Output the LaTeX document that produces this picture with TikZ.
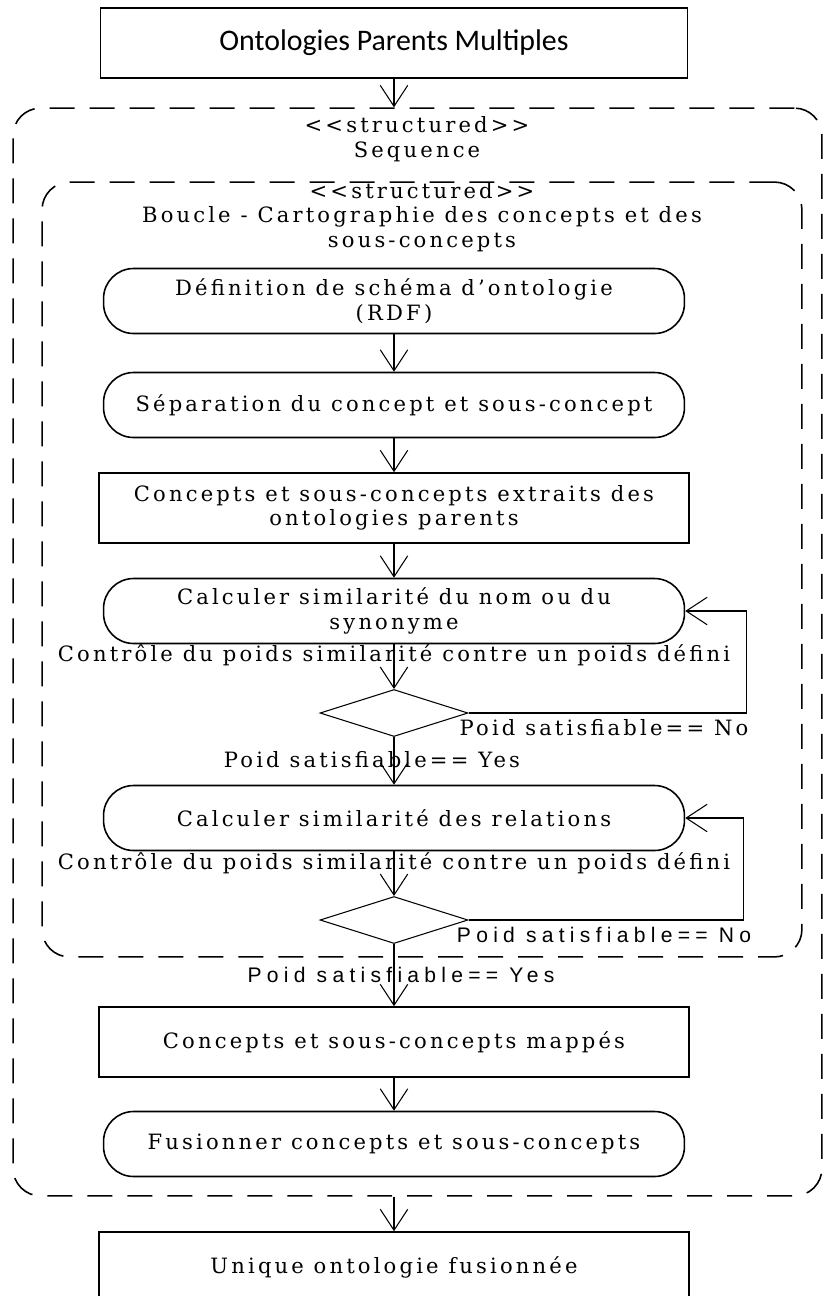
\documentclass[tikz,border=0pt]{standalone}
\usepackage{fontspec}
\setmainfont{DejaVu Serif}[LetterSpace=15]
\newfontfamily\calfont{Carlito}
\newfontfamily\arialfont{Liberation Sans}[LetterSpace=25]
\usetikzlibrary{shapes.geometric,arrows.meta}

\begin{document}
\begin{tikzpicture}[x=0.02cm,y=-0.02cm,line width=0.6pt,
  every node/.style={font=\fontsize{12}{14}\selectfont},
  box/.style={draw,rectangle,line width=0.9pt,minimum width=11.8cm,minimum height=1.4cm,align=center},
  act/.style={draw,rectangle,line width=0.9pt,rounded corners=0.6cm,minimum width=11.62cm,minimum height=1.3cm,align=center},
  region/.style={draw,rectangle,rounded corners=0.55cm,dash pattern=on 0.5cm off 0.3cm,line width=0.9pt},
  dec/.style={draw,diamond,minimum width=2.96cm,minimum height=0.94cm,inner sep=0pt},
  flow/.style={-{Straight Barb[length=0.42cm,width=0.55cm]}},
  sans/.style={font=\arialfont\fontsize{12}{14}\selectfont}]
\useasboundingbox (0,0) rectangle (825,1296);
\node[box,minimum width=11.74cm,font=\calfont\fontsize{17}{20}\selectfont](top) at (394,43) {Ontologies Parents Multiples};
\node[region,minimum width=16.18cm,minimum height=21.76cm](seq) at (417.5,652) {};
\node[align=center](seqlbl) at (417,139) {<{}<structured>{}>\\Sequence};
\node[region,minimum width=15.2cm,minimum height=15.5cm](loop) at (422,569.5) {};
\node[align=center](looplbl) at (422,217) {<{}<structured>{}>\\Boucle - Cartographie des concepts et des\\sous-concepts};
\node[act](b1) at (394,301) {Définition de schéma d'ontologie\\(RDF)};
\node[act](b2) at (394,405) {Séparation du concept et sous-concept};
\node[box](b3) at (394,508) {Concepts et sous-concepts extraits des\\ontologies parents};
\node[act](b4) at (394,611) {Calculer similarité du nom ou du\\synonyme};
\node(ctl1) at (394,655) {Contrôle du poids similarité contre un poids défini};
\node[dec](d1) at (394,713) {};
\node(no1) at (604,728) {Poid satisfiable== No};
\node(yes1) at (372,760) {Poid satisfiable== Yes};
\node[act](b5) at (394,818) {Calculer similarité des relations};
\node(ctl2) at (394,863) {Contrôle du poids similarité contre un poids défini};
\node[dec](d2) at (394,920) {};
\node[sans](no2) at (604,935) {Poid satisfiable== No};
\node[sans](yes2) at (401,975) {Poid satisfiable== Yes};
\node[box](b6) at (394,1042) {Concepts et sous-concepts mappés};
\node[act](b7) at (394,1144) {Fusionner concepts et sous-concepts};
\node[box](b8) at (394,1267) {Unique ontologie fusionnée};

\draw[flow] (top) -- (top |- seq.north);
\draw[flow] (b1) -- (b2);
\draw[flow] (b2) -- (b3);
\draw[flow] (b3) -- (b4);
\draw[flow] (b4) -- (d1);
\draw[flow] (d1) -- (b5);
\draw[flow] (b5) -- (d2);
\draw[flow] (d2) -- (b6);
\draw[flow] (b6) -- (b7);
\draw[flow] (b8 |- seq.south) -- (b8);
\draw[flow] (d1.east) -| ([xshift=1.22cm]b4.east) -- (b4.east);
\draw[flow] (d2.east) -| ([xshift=1.16cm]b5.east) -- (b5.east);
\end{tikzpicture}
\end{document}
